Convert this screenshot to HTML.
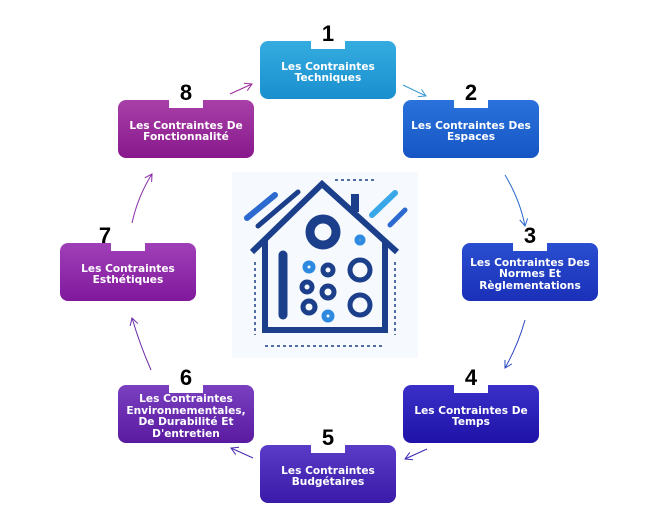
<!DOCTYPE html>
<html><head><meta charset="utf-8"><style>
body{margin:0;width:653px;height:526px;background:#fff;position:relative;overflow:hidden;font-family:"DejaVu Sans","Liberation Sans",sans-serif}
.b{position:absolute;width:136px;height:58px;border-radius:8px;color:#fff;font-weight:bold;font-size:10.6px;line-height:11.5px;text-align:center;display:flex;align-items:center;justify-content:center;box-sizing:border-box;padding:6px 2px 0}
.t{position:absolute;left:51px;top:-1px;width:34px;height:9px;background:#fff}
.n{position:absolute;width:34px;text-align:center;font-size:22px;font-weight:bold;color:#000;font-family:"Liberation Sans",sans-serif}
svg{position:absolute;left:0;top:0}
</style></head><body>
<svg width="653" height="526">
<defs><marker id="a" markerWidth="10" markerHeight="10" refX="8" refY="5" orient="auto" markerUnits="userSpaceOnUse"><path d="M1,1 L8,5 L1,9" fill="none" stroke="context-stroke" stroke-width="1"/></marker></defs>
<g fill="none" stroke-width="1">
<path d="M403,85 L426,96" stroke="#3a9ad0" marker-end="url(#a)"/>
<path d="M505,175 Q520,200 525,226" stroke="#2a6ad0" marker-end="url(#a)"/>
<path d="M525,320 Q518,345 505,368" stroke="#2a48c0" marker-end="url(#a)"/>
<path d="M427,449 L405,459" stroke="#3a2ab8" marker-end="url(#a)"/>
<path d="M253,458 L231,448" stroke="#4a2ab0" marker-end="url(#a)"/>
<path d="M151,370 Q140,345 132,318" stroke="#6a2aa8" marker-end="url(#a)"/>
<path d="M132,223 Q138,196 152,174" stroke="#8a2aa8" marker-end="url(#a)"/>
<path d="M230,94 L252,84" stroke="#9a2a98" marker-end="url(#a)"/>
</g>
<rect x="232" y="172" width="186" height="186" fill="#f6f9fd"/>
<g fill="none" stroke="#1b3f8a" stroke-width="6">
<path d="M252,252 L322,184 L397,252"/>
<path d="M265,240 V330 H385 V240"/>
</g>
<g fill="none" stroke="#1b3f8a" stroke-width="1.5" stroke-dasharray="3,3">
<path d="M255,262 V335 M395,262 V335 M265,346 H385 M335,180 H375"/>
</g>
<rect x="351" y="194" width="8" height="18" fill="#1b3f8a"/>
<g fill="none" stroke-width="5">
<circle cx="323" cy="232" r="13" stroke="#1b3f8a" stroke-width="9"/>
<circle cx="360" cy="270" r="10" stroke="#1b3f8a"/>
<circle cx="360" cy="305" r="10" stroke="#1b3f8a"/>
<circle cx="328" cy="270" r="5" stroke="#1b3f8a"/>
<circle cx="328" cy="292" r="6" stroke="#1b3f8a"/>
<circle cx="307" cy="287" r="5" stroke="#1b3f8a"/>
<circle cx="309" cy="307" r="6" stroke="#1b3f8a"/>
<circle cx="309" cy="267" r="4" stroke="#2d8ae0"/>
<circle cx="328" cy="316" r="4" stroke="#2d8ae0"/>
<circle cx="360" cy="240" r="3" stroke="#2d8ae0"/>
</g>
<path d="M283,255 V315" stroke="#1b3f8a" stroke-width="9" stroke-linecap="round"/>
<path d="M247,218 L275,195" stroke="#2d6ad0" stroke-width="6" stroke-linecap="round"/>
<path d="M258,226 L298,192" stroke="#1b3f8a" stroke-width="5" stroke-linecap="round"/>
<path d="M372,215 L395,193" stroke="#3aa8e8" stroke-width="6" stroke-linecap="round"/>
<path d="M390,225 L405,210" stroke="#2d6ad0" stroke-width="5" stroke-linecap="round"/>
</svg>

<div class="b" style="left:260px;top:41px;background:linear-gradient(#35ace0,#1a8fcf)"><div class="t"></div>Les Contraintes<br>Techniques</div>
<div class="n" style="left:311px;top:21px">1</div>
<div class="b" style="left:403px;top:100px;background:linear-gradient(#2a72dc,#1656c4)"><div class="t"></div>Les Contraintes Des<br>Espaces</div>
<div class="n" style="left:454px;top:80px">2</div>
<div class="b" style="left:462px;top:243px;background:linear-gradient(#2a4ed0,#1a30b8)"><div class="t"></div>Les Contraintes Des<br>Normes Et<br>Règlementations</div>
<div class="n" style="left:513px;top:223px">3</div>
<div class="b" style="left:403px;top:385px;background:linear-gradient(#3a30c8,#1e12a8)"><div class="t"></div>Les Contraintes De<br>Temps</div>
<div class="n" style="left:454px;top:365px">4</div>
<div class="b" style="left:260px;top:445px;background:linear-gradient(#5a3cc8,#3a1aa8)"><div class="t"></div>Les Contraintes<br>Budgétaires</div>
<div class="n" style="left:311px;top:425px">5</div>
<div class="b" style="left:118px;top:385px;background:linear-gradient(#7a40c0,#5a1aa0)"><div class="t"></div>Les Contraintes<br>Environnementales,<br>De Durabilité Et<br>D'entretien</div>
<div class="n" style="left:169px;top:365px">6</div>
<div class="b" style="left:60px;top:243px;background:linear-gradient(#a040b8,#80189c)"><div class="t"></div>Les Contraintes<br>Esthétiques</div>
<div class="n" style="left:88px;top:223px">7</div>
<div class="b" style="left:118px;top:100px;background:linear-gradient(#a840a8,#88188c)"><div class="t"></div>Les Contraintes De<br>Fonctionnalité</div>
<div class="n" style="left:169px;top:80px">8</div>
</body></html>
